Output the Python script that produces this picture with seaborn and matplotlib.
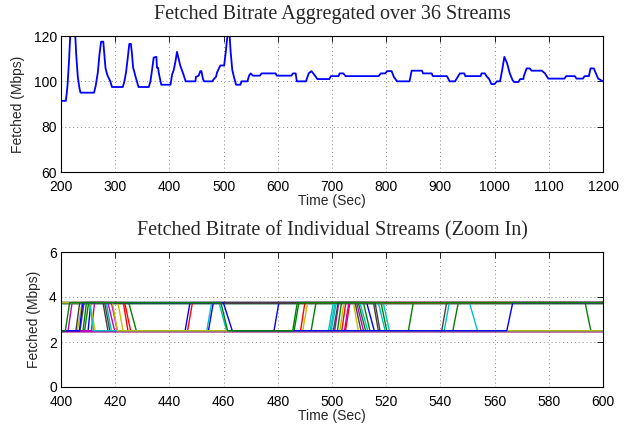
import matplotlib
matplotlib.use('Agg')
import matplotlib.pyplot as plt
import seaborn as sns
import pandas as pd

# Aggregated bitrate (top panel)
agg_time = [200, 209, 212, 215, 218, 223, 226, 228, 231, 234, 236, 261, 264, 268, 271, 274, 278, 280,
            282, 284, 286, 288, 291, 294, 314, 317, 320, 323, 326, 329, 331, 333, 335, 337, 340, 343,
            362, 365, 368, 371, 376, 377, 379, 381, 385, 402, 405, 408, 411, 414, 417, 420, 423, 426,
            430, 448, 449, 454, 457, 459, 462, 464, 479, 482, 486, 488, 491, 494, 501, 504, 507, 511,
            513, 516, 519, 523, 531, 533, 544, 547, 550, 554, 567, 570, 596, 598, 625, 628, 633, 635,
            652, 657, 662, 667, 673, 695, 698, 712, 714, 721, 725, 786, 790, 798, 802, 810, 814, 820,
            843, 847, 866, 868, 884, 886, 912, 917, 927, 932, 936, 944, 946, 974, 976, 982, 985, 990,
            994, 1000, 1004, 1010, 1014, 1018, 1023, 1028, 1033, 1036, 1044, 1047, 1053, 1054, 1059,
            1065, 1068, 1087, 1093, 1099, 1129, 1132, 1148, 1151, 1163, 1166, 1174, 1177, 1183, 1191,
            1200]
agg_rate = [91.4, 91.4, 98, 110, 125, 127, 122, 112, 102, 97, 95, 95, 98, 104, 112, 117.5, 117.5, 112,
            106, 104, 102.5, 101.5, 100, 97.5, 97.5, 100, 104, 110, 116.5, 116.5, 112, 106, 104.5, 102.5,
            100, 97.5, 97.5, 100, 105, 110.5, 110.8, 106, 106, 103, 98.5, 98.5, 103, 105, 108.5, 113,
            110, 107, 105, 103, 100, 100, 102, 102.5, 104.5, 104.5, 101, 100, 100, 101, 102, 104, 105.5,
            107, 107, 113, 120, 120.5, 113, 105, 102, 98.5, 98.5, 100, 100, 102.5, 103.5, 102.5, 102.5,
            103.5, 103.5, 102.5, 102.5, 103.5, 103.5, 100, 100, 103.5, 104.5, 103, 101, 101, 102.3,
            102.3, 103.5, 103.5, 102.3, 102.3, 103.5, 103.5, 104.5, 104.5, 102, 100, 100, 104.7, 104.7,
            103.5, 103.5, 102.3, 102.3, 100, 100, 102, 103.5, 103.5, 102.3, 102.3, 103.5, 103.5, 102.3,
            101, 98.8, 98.8, 100, 100, 105, 110.8, 108, 103.5, 100.6, 99.7, 99.7, 101, 101, 102.3, 105.7,
            105.7, 104.7, 104.7, 103.5, 101.2, 101.2, 102.3, 102.3, 101.2, 101.2, 102.3, 102.3, 105.7,
            105.7, 101.2, 100]

# Individual streams (bottom panel), drawn in this order: later ones on top
stream_times = [
    [400, 600], [400, 600], [400, 600], [400, 600], [400, 600], [400, 600], [400, 600],
    [400, 410, 411, 512.8, 515.6, 600],
    [400, 445.8, 447.6, 600],
    [400, 454.4, 456.2, 600],
    [400, 478.6, 480.4, 600],
    [400, 408.1, 409.4, 425, 427.8, 486, 487.8, 509.7, 512.4, 600],
    [400, 408.7, 410.2, 511.6, 514, 528.2, 530, 600],
    [400, 492.3, 494.1, 518.1, 520.2, 544.6, 546.6, 593.4, 595.5, 600],
    [400, 502, 503.5, 600],
    [400, 423, 424.7, 446.7, 448.5, 600],
    [400, 423.5, 425.7, 488.4, 490, 600],
    [400, 503.6, 505.1, 600],
    [400, 505, 506.6, 600],
    [400, 416.7, 418.6, 453.8, 455.6, 458.3, 461.1, 498.7, 500.5, 510.3, 513.2, 600],
    [400, 499.3, 501.1, 517.1, 519.6, 541.4, 543.3, 550.7, 553.7, 600],
    [400, 499.7, 501.6, 518.9, 521.2, 600],
    [400, 402.6, 404.1, 417.3, 419.8, 501, 502.5, 509.1, 511.6, 600],
    [400, 411.2, 412.4, 418.6, 420.8, 504.6, 506.2, 600],
    [400, 406, 407.8, 421, 422.9, 489.2, 491, 507.9, 509.7, 600],
    [400, 410.7, 412.6, 502.9, 504.4, 600],
    [400, 407, 408.5, 415.5, 417.3, 500.5, 502.3, 508.5, 510.7, 600],
    [400, 416.1, 418, 540.5, 542.3, 600],
    [400, 515.3, 517.1, 600],
    [400, 515.9, 517.7, 600],
    [400, 600],
    [400, 410.5, 412, 600],
    [400, 419, 420.8, 600],
    [400, 405.5, 406.9, 600],
    [400, 406.8, 408, 459.9, 463.2, 564.5, 566.7, 600],
    [400, 401.6, 403.2, 459, 461.5, 485.5, 487.2, 600],
]
stream_rates = [
    [3.75, 3.75], [3.75, 3.75], [2.5, 2.5], [3.75, 3.75], [2.5, 2.5], [3.75, 3.75], [2.5, 2.5],
    [2.5, 2.5, 3.75, 3.75, 2.5, 2.5],
    [2.5, 2.5, 3.75, 3.75],
    [2.5, 2.5, 3.75, 3.75],
    [2.5, 2.5, 3.75, 3.75],
    [2.5, 2.5, 3.75, 3.75, 2.5, 2.5, 3.75, 3.75, 2.5, 2.5],
    [2.5, 2.5, 3.75, 3.75, 2.5, 2.5, 3.75, 3.75],
    [2.5, 2.5, 3.75, 3.75, 2.5, 2.5, 3.75, 3.75, 2.5, 2.5],
    [2.5, 2.5, 3.75, 3.75],
    [3.75, 3.75, 2.5, 2.5, 3.75, 3.75],
    [3.75, 3.75, 2.5, 2.5, 3.75, 3.75],
    [2.5, 2.5, 3.75, 3.75],
    [2.5, 2.5, 3.75, 3.75],
    [3.75, 3.75, 2.5, 2.5, 3.75, 3.75, 2.5, 2.5, 3.75, 3.75, 2.5, 2.5],
    [2.5, 2.5, 3.75, 3.75, 2.5, 2.5, 3.75, 3.75, 2.5, 2.5],
    [2.5, 2.5, 3.75, 3.75, 2.5, 2.5],
    [2.5, 2.5, 3.75, 3.75, 2.5, 2.5, 3.75, 3.75, 2.5, 2.5],
    [2.5, 2.5, 3.75, 3.75, 2.5, 2.5, 3.75, 3.75],
    [2.5, 2.5, 3.75, 3.75, 2.5, 2.5, 3.75, 3.75, 2.5, 2.5],
    [3.75, 3.75, 2.5, 2.5, 3.75, 3.75],
    [2.5, 2.5, 3.75, 3.75, 2.5, 2.5, 3.75, 3.75, 2.5, 2.5],
    [3.75, 3.75, 2.5, 2.5, 3.75, 3.75],
    [3.75, 3.75, 2.5, 2.5],
    [3.75, 3.75, 2.5, 2.5],
    [2.5, 2.5],
    [3.75, 3.75, 2.5, 2.5],
    [3.75, 3.75, 2.5, 2.5],
    [2.5, 2.5, 3.75, 3.75],
    [2.5, 2.5, 3.75, 3.75, 2.5, 2.5, 3.75, 3.75],
    [2.5, 2.5, 3.75, 3.75, 2.5, 2.5, 3.75, 3.75],
]

# MATLAB colour order, one letter per stream
matlab = {'b': (0, 0, 1), 'g': (0, 0.5, 0), 'r': (1, 0, 0), 'c': (0, 0.75, 0.75),
          'm': (0.75, 0, 0.75), 'y': (0.75, 0.75, 0), 'k': (0.25, 0.25, 0.25)}
stream_colors = list('bgrcmyk') + list('bbbb') + list('gggg') + list('rrrr') + list('ccc') + \
    list('mm') + list('yy') + list('kkkk') + list('mcykbg')

rows = []
for i, (ts, rs) in enumerate(zip(stream_times, stream_rates)):
    for t, r in zip(ts, rs):
        rows.append({'stream': i, 'time': t, 'rate': r})
df = pd.DataFrame(rows)

sns.set_theme(style='white')
plt.rcParams['font.family'] = ['Liberation Sans', 'DejaVu Sans']
plt.rcParams['xtick.direction'] = 'in'
plt.rcParams['ytick.direction'] = 'in'

fig = plt.figure(figsize=(6.34, 4.26), dpi=100)
ax1 = fig.add_axes([61 / 634, 1 - 172 / 426, 542 / 634, 136 / 426])
ax2 = fig.add_axes([61 / 634, 1 - 387 / 426, 542 / 634, 135 / 426])

sns.lineplot(x=agg_time, y=agg_rate, color=(0, 0, 1), linewidth=1.3, ax=ax1)

sns.lineplot(data=df, x='time', y='rate', hue='stream', units='stream', estimator=None, sort=False,
             palette=[matlab[c] for c in stream_colors], linewidth=1.0, legend=False, ax=ax2)


def style(ax, xlim, ylim, xticks, yticks, title):
    ax.set_xlim(*xlim)
    ax.set_ylim(*ylim)
    ax.set_xticks(xticks)
    ax.set_yticks(yticks)
    ax.grid(True, linestyle=(0, (1, 3)), color='#888888', linewidth=0.7)
    ax.tick_params(axis='both', labelsize=10, length=4, width=0.6, top=True, right=True,
                   colors='black')
    ax.tick_params(axis='x', pad=6)
    ax.tick_params(axis='y', pad=3)
    for lab in ax.get_yticklabels():
        lab.set_verticalalignment('center_baseline')
    for s in ax.spines.values():
        s.set_color('black')
        s.set_linewidth(0.8)
    ax.set_xlabel('Time (Sec)', fontsize=10, labelpad=0)
    ax.set_ylabel('Fetched (Mbps)', fontsize=10, labelpad=6)
    ax.set_title(title, fontsize=14.5, family='Liberation Serif', pad=12)


style(ax1, (200, 1200), (60, 120), range(200, 1201, 100), [60, 80, 100, 120],
      'Fetched Bitrate Aggregated over 36 Streams')
style(ax2, (400, 600), (0, 6), range(400, 601, 20), [0, 2, 4, 6],
      'Fetched Bitrate of Individual Streams (Zoom In)')

fig.savefig('out.png', dpi=100)
